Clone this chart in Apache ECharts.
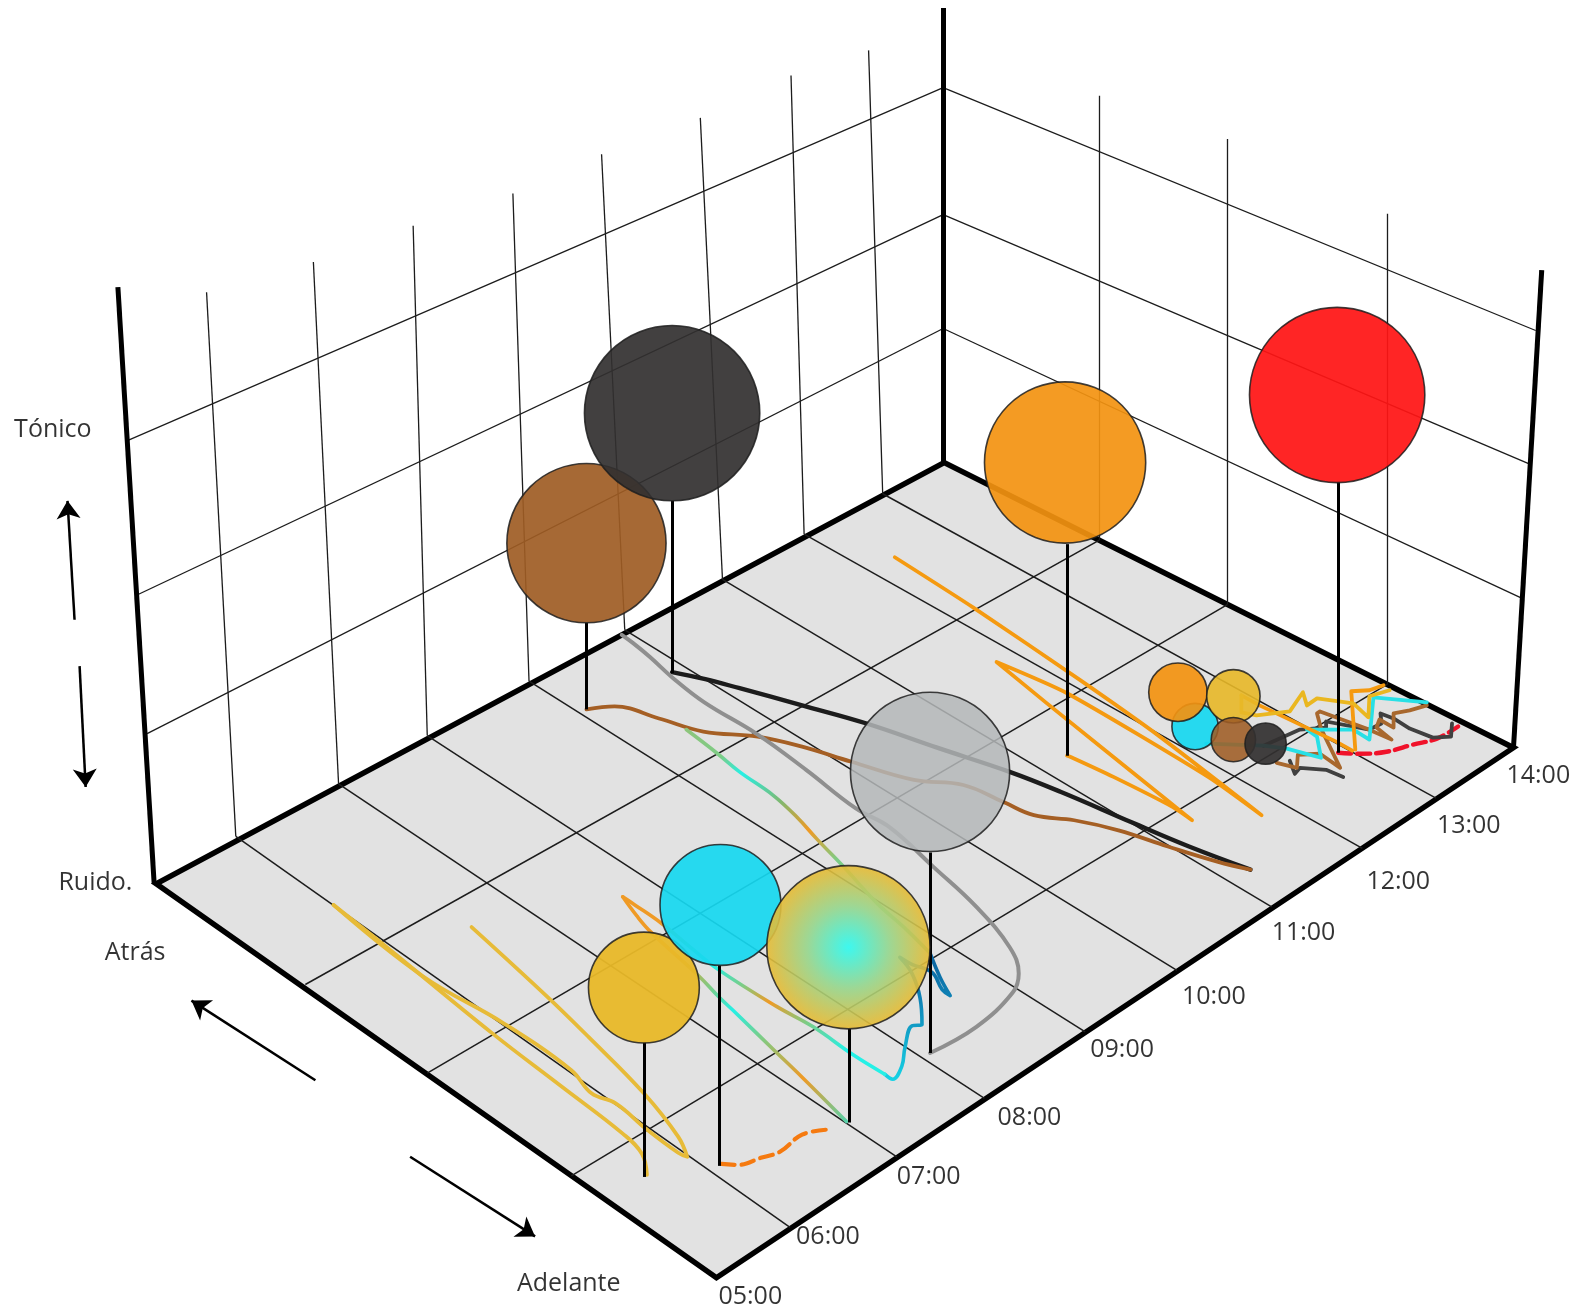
<!DOCTYPE html>
<html>
<head>
<meta charset="utf-8">
<style>html,body{margin:0;padding:0;background:#fff}#c{width:1580px;height:1313px}</style>
<script src="https://cdn.jsdelivr.net/npm/echarts@6/dist/echarts.min.js"></script>
</head>
<body>
<div id="c"></div>
<script>
// Plane of the picture: the chart is a perspective drawing, so every value is read in picture units.
var floorOutline = [[155,877],[711,1268],[1502,742],[937,459]];
var wallEdges = [
  [[117,285],[153,877]],
  [[936,8],[936,459]],
  [[1530,268],[1502,742]]
];
var hourTicks = ['05:00','06:00','07:00','08:00','09:00','10:00','11:00','12:00','13:00','14:00'];
var hourLabelAt = [[713,1287],[790,1227],[890,1168],[990,1109],[1082,1042],[1173,989],[1262,926],[1356,875],[1426,820],[1495,770]];
var hourLines = [
  [[784,1218],[234,830]],[[890,1148],[336,778]],[[977,1090],[424,730]],[[1077,1024],[525,676]],
  [[1168,963],[620,625]],[[1262,900],[717,575]],[[1352,842],[798,530]],[[1425,792],[876,490]]
];
var depthLines = [[[303,977],[1091,536]],[[424,1065],[1218,600]],[[567,1167],[1377,679]]];
var leftWallRows = [[[936,87],[127,437]],[[936,213],[137,590]],[[936,326],[146,728]]];
var rightWallRows = [[[936,87],[1524,328]],[[936,213],[1517,460]],[[936,326],[1509,593]]];
var leftWallColumns = [
  [[234,830],[205,290]],[[336,778],[311,260]],[[424,730],[410,224]],[[525,676],[509,192]],
  [[620,625],[597,153]],[[717,575],[695,117]],[[798,530],[785,75]],[[876,490],[862,50]]
];
var rightWallColumns = [[[1091,536],[1091,95]],[[1218,600],[1218,138]],[[1377,679],[1377,212]]];
var axisWords = [['Tónico',14,427],['Ruido.',58,876],['Atrás',104,946],['Adelante',513,1274]];
var arrows = [
  [[74,615],[67,497]],[[79,661],[85,781]],[[313,1072],[190,993]],[[407,1148],[531,1227]]
];

var blackTrack = [[667,667],[700,674],[734,683],[796,700],[860,718],[930,742],[1002,766],[1053,786],[1123,816],[1180,840],[1241,863]];
var brownTrack = [[582,704],[610,701],[654,713],[698,726],[752,731],[796,741],[845,756],[907,774],[956,779],[996,796],[1026,809],[1066,814],[1110,824],[1159,840],[1208,855],[1241,863]];
var grayTrack = [[617,630],[628,638],[645,652],[668,673],[699,697],[752,729],[800,764],[849,802],[883,821],[926,860],[969,900],[1002,940],[1011,966],[1005,985],[969,1019],[923,1045]];
var mixedTrackA = [[681,724],[711,747],[734,766],[767,789],[791,811],[811,833],[837,860],[870,896],[900,923],[923,946]];
var blueTrack = [[923,946],[933,970],[943,988],[935,982],[925,965],[905,957],[893,950],[905,966],[913,990],[915,1017],[905,1018],[898,1040],[895,1058],[886,1071],[878,1066]];
var mixedTrackB = [[878,1066],[847,1047],[807,1019],[771,999],[714,963],[685,940],[656,916],[630,898],[618,890]];
var mixedTrackC = [[618,890],[632,909],[646,925],[694,969],[713,989],[731,1006],[768,1042],[796,1069],[840,1113]];
var goldTrackOut = [[642,1166],[637,1145],[618,1125],[557,1078],[488,1025],[379,936],[331,898]];
var goldTrackBack = [[331,898],[420,969],[499,1015],[567,1062],[587,1085],[611,1095],[642,1121],[673,1144],[682,1148],[673,1128],[639,1085],[584,1029],[543,989],[468,920]];
var orangeDashTrack = [[716,1155],[733,1156],[755,1149],[774,1143],[796,1126],[822,1121]];
var orangeTrack = [[888,553],[966,603],[1072,675],[1151,731],[1252,809],[1199,771],[1059,688],[989,657],[1039,698],[1158,794],[1183,814],[1164,801],[1105,771],[1062,751],[1059,750]];
var redDashTrack = [[1328,747],[1350,748],[1376,746],[1402,739],[1426,733],[1447,721]];
var clusterDarkA = [[1441,718],[1440,731],[1422,732],[1399,723],[1383,713],[1370,708],[1371,718],[1359,724],[1316,716],[1316,722],[1290,724],[1254,740]];
var clusterDarkB = [[1333,771],[1316,764],[1290,762],[1285,768],[1280,755]];
var clusterBrown = [[1416,700],[1399,705],[1383,708],[1383,722],[1369,714],[1366,722],[1381,734],[1356,723],[1310,706],[1307,708],[1311,723],[1330,762],[1310,748],[1288,749],[1287,762],[1267,757]];
var clusterCyan = [[1416,697],[1363,692],[1359,734],[1343,724],[1297,724],[1307,731],[1311,752],[1277,743],[1254,740],[1197,738]];
var clusterOrangeA = [[1373,680],[1359,685],[1341,686],[1345,744]];
var clusterOrangeB = [[1342,745],[1326,736],[1250,700],[1232,690]];
var clusterGold = [[1379,685],[1359,691],[1358,712],[1343,698],[1307,693],[1297,700],[1293,687],[1280,706],[1247,710],[1232,707],[1232,690]];

var stems = [
  [[667,497],[667,668]],[[582,618],[582,704]],[[1059,540],[1059,750]],[[1328,478],[1328,747]],
  [[923,846],[923,1045]],[[714,958],[714,1157]],[[843,1021],[843,1114]],[[639,1034],[639,1168]]
];
// x, y, radius
var bubbles = [
  [582,539,79],[667,410,87],[1057,459,80],[1327,392,87],[923,766,79],[639,980,55],[715,898,60],[842,940,81],
  [1186,721,23],[1169,687,29],[1224,691,26.5],[1224,734,22],[1256,738,20.5]
];
var bubbleColors = [
  'rgba(158,92,36,0.92)','rgba(50,48,48,0.92)','rgba(243,146,16,0.92)','rgba(255,20,20,0.93)',
  'rgba(180,183,185,0.85)','rgba(232,184,40,0.95)','rgba(22,216,240,0.92)','GRADIENT',
  'rgba(22,216,240,0.92)','rgba(243,146,16,0.92)','rgba(232,184,40,0.9)','rgba(158,92,36,0.88)','rgba(50,48,48,0.92)'
];

var PX = 1580 / 1568;
function grad(stops, x2, y2) {
  return new echarts.graphic.LinearGradient(0, 0, x2 === undefined ? 1 : x2, y2 === undefined ? 1 : y2,
    stops.map(function (s) { return { offset: s[0], color: s[1] }; }));
}
function track(name, pts, color, width, opts) {
  opts = opts || {};
  return {
    type: 'line', name: name, data: pts, z: opts.z || 4, showSymbol: false, symbol: 'none', silent: true,
    smooth: opts.smooth === undefined ? 0.4 : opts.smooth,
    lineStyle: { color: color, width: width, type: opts.dash || 'solid', cap: 'round', join: 'round', opacity: opts.opacity === undefined ? 1 : opts.opacity }
  };
}
function segs(name, list, color, width, z) {
  return {
    type: 'lines', name: name, coordinateSystem: 'cartesian2d', z: z, silent: true, polyline: false,
    lineStyle: { color: color, width: width, opacity: 1, curveness: 0 },
    data: list.map(function (l) { return { coords: l }; })
  };
}
var orangeHue = '#ef9a25', cyanHue = '#25f0e6', greenHue = '#7ccc86';

var series = [
  {
    type: 'custom', name: 'floor', z: 1, silent: true, data: [0],
    renderItem: function (p, api) {
      return {
        type: 'polygon',
        shape: { points: floorOutline.map(function (c) { return api.coord(c); }) },
        style: { fill: '#e2e2e2', stroke: '#000', lineWidth: 5.5, lineJoin: 'miter' }
      };
    }
  },
  segs('hours', hourLines, '#1c1c1c', 1.5, 2),
  segs('depth', depthLines, '#1c1c1c', 1.5, 2),
  segs('left rows', leftWallRows, '#1c1c1c', 1.3, 2),
  segs('right rows', rightWallRows, '#1c1c1c', 1.3, 2),
  segs('left cols', leftWallColumns, '#1c1c1c', 1.3, 2),
  segs('right cols', rightWallColumns, '#1c1c1c', 1.3, 2),
  segs('walls', wallEdges, '#000', 5, 3),
  track('black', blackTrack, '#1c1c1c', 4.4),
  track('brown', brownTrack, '#a55f24', 3.8),
  track('gray', grayTrack, '#8f8f8f', 4),
  track('mixed a', mixedTrackA, grad([[0,'#8fc47a'],[0.14,greenHue],[0.22,cyanHue],[0.36,'#7fb870'],[0.48,orangeHue],[0.6,greenHue],[0.8,greenHue],[1,'#4fb898']]), 3.6),
  track('blue', blueTrack, grad([[0,'#0b5f9c'],[0.4,'#0f86b8'],[1,'#16d4e6']], 0, 1), 3.6),
  track('mixed b', mixedTrackB, grad([[0,orangeHue],[0.15,orangeHue],[0.36,cyanHue],[0.47,greenHue],[0.57,orangeHue],[0.7,greenHue],[0.85,cyanHue],[1,cyanHue]]), 3.6),
  track('mixed c', mixedTrackC, grad([[0,orangeHue],[0.25,orangeHue],[0.4,greenHue],[0.5,cyanHue],[0.62,greenHue],[0.8,orangeHue],[1,'#50d4b0']]), 3.6),
  track('gold out', goldTrackOut, '#e7bb38', 3.8),
  track('gold back', goldTrackBack, '#e7bb38', 3.8),
  track('orange dash', orangeDashTrack, '#f57a10', 4.2, { dash: [13, 7] }),
  track('orange', orangeTrack, '#f59a10', 3.8, { smooth: 0.2 }),
  track('red dash', redDashTrack, '#f0122a', 4.4, { dash: [13, 6] }),
  track('cluster dark a', clusterDarkA, '#404040', 3.8, { smooth: 0 }),
  track('cluster dark b', clusterDarkB, '#404040', 3.8, { smooth: 0 }),
  track('cluster brown', clusterBrown, '#a8682e', 3.8, { smooth: 0 }),
  track('cluster cyan', clusterCyan, '#28e0e6', 3.8, { smooth: 0 }),
  track('cluster orange a', clusterOrangeA, '#f59a10', 3.8, { smooth: 0 }),
  track('cluster orange b', clusterOrangeB, '#f59a10', 3.8, { smooth: 0 }),
  track('cluster gold', clusterGold, '#eab720', 3.8, { smooth: 0 }),
  segs('stems', stems, '#000', 3, 5),
  {
    type: 'scatter', name: 'bubbles', z: 6, silent: true,
    symbolSize: function (v) { return 2 * v[2] * PX; },
    data: bubbles.map(function (b, i) {
      var col = bubbleColors[i];
      if (col === 'GRADIENT') {
        col = new echarts.graphic.RadialGradient(0.5, 0.5, 0.5, [
          { offset: 0, color: 'rgba(44,250,240,0.9)' },
          { offset: 0.5, color: 'rgba(150,214,140,0.9)' },
          { offset: 1, color: 'rgba(232,186,50,0.9)' }
        ]);
      }
      return { value: b, itemStyle: { color: col, borderColor: 'rgba(30,30,30,0.85)', borderWidth: 1.6, opacity: 1 } };
    })
  },
  {
    type: 'lines', name: 'arrows', coordinateSystem: 'cartesian2d', z: 7, silent: true,
    symbol: ['none', 'arrow'], symbolSize: 18,
    lineStyle: { color: '#000', width: 2.5, opacity: 1, curveness: 0 },
    data: arrows.map(function (a) { return { coords: a }; })
  },
  {
    type: 'scatter', name: 'hour ticks', z: 8, silent: true, symbolSize: 0,
    data: hourTicks.map(function (t, i) { return { value: hourLabelAt[i], name: t }; }),
    label: { show: true, position: 'right', distance: 0, formatter: '{b}', color: '#000', fontFamily: 'Open Sans', fontSize: 25 }
  },
  {
    type: 'scatter', name: 'axis words', z: 8, silent: true, symbolSize: 0,
    data: axisWords.map(function (w) { return { value: [w[1], w[2]], name: w[0] }; }),
    label: { show: true, position: 'right', distance: 0, formatter: '{b}', color: '#000', fontFamily: 'Open Sans', fontSize: 25 }
  }
];

var chart = echarts.init(document.getElementById('c'), null, { renderer: 'canvas' });
chart.setOption({
  animation: false,
  backgroundColor: '#fff',
  grid: { left: 0, right: 0, top: 0, bottom: 0 },
  xAxis: { type: 'value', min: 0, max: 1568, show: false },
  yAxis: { type: 'value', min: 0, max: 1303, inverse: true, show: false },
  series: series
});
</script>
</body>
</html>
